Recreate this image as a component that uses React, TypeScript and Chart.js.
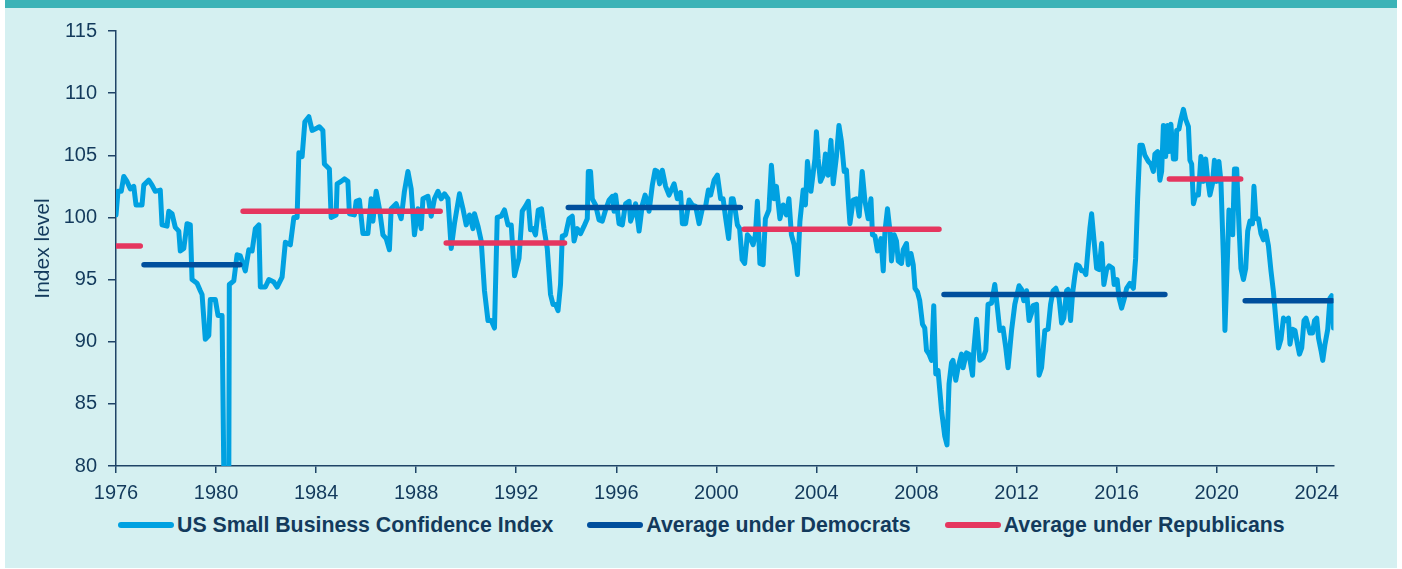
import React, { useEffect, useRef } from "react";
import { Chart, registerables } from "chart.js";

Chart.register(...registerables);

// ---------- data ----------
const xTickYears = [1976, 1980, 1984, 1988, 1992, 1996, 2000, 2004, 2008, 2012, 2016, 2020, 2024];
const yTickValues = [80, 85, 90, 95, 100, 105, 110, 115];
const seriesLabels = ["US Small Business Confidence Index", "Average under Democrats", "Average under Republicans"];
const yAxisTitle = "Index level";

// [year, index value]
const index1976to1984: [number, number][] = [
  [1976.0, 100.2], [1976.08, 102.1], [1976.21, 102.1], [1976.31, 103.3], [1976.44, 102.9], [1976.57, 102.3], [1976.71, 102.5], [1976.8, 101.0], [1977.04, 101.0], [1977.11, 102.6], [1977.31, 103.0], [1977.44, 102.6], [1977.57, 102.1], [1977.77, 102.2], [1977.84, 99.4], [1978.04, 99.3], [1978.11, 100.5], [1978.24, 100.3], [1978.37, 99.2], [1978.51, 98.9], [1978.57, 97.3], [1978.71, 97.5], [1978.84, 99.5], [1978.97, 99.4], [1979.04, 95.0], [1979.24, 94.7], [1979.37, 94.1], [1979.44, 93.8], [1979.57, 90.2], [1979.71, 90.5], [1979.77, 93.4], [1979.97, 93.4], [1980.08, 92.1], [1980.24, 92.1], [1980.31, 79.6], [1980.51, 79.6], [1980.53, 94.6], [1980.71, 94.9], [1980.84, 97.0], [1980.97, 96.9], [1981.17, 95.7], [1981.31, 97.4], [1981.44, 97.3], [1981.57, 99.1], [1981.71, 99.4], [1981.77, 94.4], [1981.97, 94.4], [1982.11, 95.0], [1982.31, 94.8], [1982.44, 94.4], [1982.64, 95.2], [1982.77, 98.0], [1982.97, 97.8], [1983.11, 100.0], [1983.24, 100.0], [1983.31, 105.2], [1983.44, 104.9], [1983.55, 107.7], [1983.71, 108.1], [1983.84, 107.0], [1984.04, 107.2],
];
const index1984to1992: [number, number][] = [
  [1984.13, 107.3], [1984.27, 107.0], [1984.33, 104.3], [1984.53, 103.9], [1984.6, 100.0], [1984.8, 100.2], [1984.84, 102.7], [1985.0, 102.9], [1985.13, 103.1], [1985.27, 102.9], [1985.33, 100.3], [1985.53, 100.2], [1985.6, 101.3], [1985.73, 101.4], [1985.87, 98.7], [1986.07, 98.7], [1986.2, 101.5], [1986.27, 99.7], [1986.4, 102.1], [1986.53, 100.7], [1986.67, 98.6], [1986.8, 98.3], [1986.93, 97.4], [1987.0, 100.7], [1987.2, 101.1], [1987.4, 99.9], [1987.53, 102.1], [1987.67, 103.7], [1987.8, 102.3], [1987.93, 98.6], [1988.07, 100.7], [1988.2, 99.1], [1988.27, 101.5], [1988.47, 101.7], [1988.6, 100.1], [1988.73, 101.5], [1988.87, 102.1], [1989.0, 101.5], [1989.13, 101.9], [1989.27, 101.5], [1989.4, 97.5], [1989.53, 99.5], [1989.73, 101.9], [1989.87, 100.7], [1990.0, 99.4], [1990.13, 100.2], [1990.27, 99.1], [1990.33, 100.3], [1990.47, 99.3], [1990.6, 98.1], [1990.73, 94.1], [1990.87, 91.7], [1991.0, 91.7], [1991.13, 91.1], [1991.24, 100.0], [1991.4, 100.1], [1991.53, 100.6], [1991.67, 99.4], [1991.8, 99.4], [1991.93, 95.3],
];
const index1992to2000: [number, number][] = [
  [1992.11, 96.7], [1992.24, 100.5], [1992.37, 100.9], [1992.48, 101.3], [1992.57, 99.0], [1992.67, 99.1], [1992.77, 98.6], [1992.88, 100.6], [1993.01, 100.7], [1993.11, 99.1], [1993.24, 97.5], [1993.37, 93.8], [1993.47, 93.0], [1993.57, 93.0], [1993.67, 92.5], [1993.77, 94.6], [1993.84, 98.5], [1993.97, 98.6], [1994.11, 99.9], [1994.24, 100.1], [1994.31, 98.1], [1994.44, 99.1], [1994.57, 98.7], [1994.71, 99.3], [1994.84, 99.9], [1994.88, 103.7], [1994.97, 103.7], [1995.04, 101.5], [1995.17, 101.0], [1995.31, 99.8], [1995.44, 99.7], [1995.57, 100.6], [1995.71, 101.4], [1995.84, 101.7], [1995.91, 100.5], [1995.97, 101.8], [1996.11, 99.5], [1996.24, 99.4], [1996.37, 101.1], [1996.51, 101.3], [1996.57, 99.7], [1996.71, 100.5], [1996.77, 101.1], [1996.91, 98.9], [1997.04, 101.0], [1997.15, 101.8], [1997.24, 101.3], [1997.31, 100.5], [1997.44, 102.6], [1997.55, 103.8], [1997.64, 103.7], [1997.73, 102.7], [1997.84, 103.8], [1997.97, 102.5], [1998.11, 101.8], [1998.31, 102.7], [1998.44, 101.5], [1998.57, 102.0], [1998.64, 99.5], [1998.77, 99.5], [1998.91, 101.4], [1999.04, 101.0], [1999.17, 100.9], [1999.31, 99.5], [1999.44, 100.7], [1999.57, 100.9], [1999.68, 102.2], [1999.77, 101.8], [1999.91, 103.0], [2000.04, 103.4],
];
const index2000to2008: [number, number][] = [
  [2000.17, 101.5], [2000.27, 101.5], [2000.36, 100.1], [2000.49, 98.3], [2000.6, 101.5], [2000.67, 101.5], [2000.76, 100.5], [2000.84, 99.4], [2000.93, 99.1], [2001.03, 96.6], [2001.13, 96.3], [2001.24, 98.6], [2001.36, 98.3], [2001.47, 97.8], [2001.56, 98.6], [2001.64, 101.3], [2001.74, 96.3], [2001.87, 96.2], [2001.96, 99.9], [2002.1, 100.6], [2002.2, 104.2], [2002.31, 101.5], [2002.4, 102.5], [2002.54, 99.9], [2002.67, 101.0], [2002.8, 100.2], [2002.9, 101.5], [2003.0, 98.6], [2003.11, 97.8], [2003.24, 95.4], [2003.34, 99.7], [2003.47, 102.2], [2003.56, 101.0], [2003.64, 104.5], [2003.78, 102.1], [2003.94, 104.7], [2004.0, 106.9], [2004.07, 104.7], [2004.16, 102.9], [2004.27, 103.4], [2004.36, 105.1], [2004.47, 103.4], [2004.58, 106.2], [2004.67, 102.7], [2004.8, 104.9], [2004.9, 107.4], [2005.0, 106.1], [2005.11, 103.7], [2005.2, 103.8], [2005.27, 101.5], [2005.34, 99.5], [2005.47, 101.4], [2005.6, 101.5], [2005.71, 100.1], [2005.83, 103.7], [2005.94, 101.3], [2006.07, 99.9], [2006.18, 101.5], [2006.24, 98.6], [2006.34, 98.5], [2006.44, 97.3], [2006.58, 98.3], [2006.67, 95.7], [2006.74, 98.9], [2006.84, 100.7], [2006.94, 98.9], [2007.0, 96.5], [2007.11, 98.6], [2007.2, 98.1], [2007.27, 96.5], [2007.4, 96.3], [2007.47, 97.4], [2007.6, 97.9], [2007.67, 96.2], [2007.78, 97.1], [2007.87, 96.2], [2007.94, 94.3], [2008.04, 94.0],
];
const index2008to2016: [number, number][] = [
  [2008.13, 93.3], [2008.24, 91.4], [2008.33, 91.1], [2008.4, 89.3], [2008.5, 89.0], [2008.6, 88.5], [2008.69, 92.9], [2008.77, 87.4], [2008.86, 87.7], [2009.0, 84.5], [2009.13, 82.4], [2009.22, 81.7], [2009.3, 86.6], [2009.4, 88.3], [2009.46, 88.5], [2009.57, 86.9], [2009.66, 87.9], [2009.8, 89.0], [2009.86, 87.9], [2010.0, 89.1], [2010.1, 89.0], [2010.24, 87.3], [2010.29, 89.3], [2010.4, 91.8], [2010.53, 88.5], [2010.66, 88.7], [2010.77, 89.3], [2010.86, 93.0], [2011.0, 93.1], [2011.13, 94.6], [2011.22, 93.0], [2011.33, 90.9], [2011.46, 91.1], [2011.57, 89.5], [2011.66, 87.9], [2011.8, 90.9], [2011.93, 93.0], [2012.1, 94.5], [2012.2, 94.2], [2012.29, 93.3], [2012.4, 94.1], [2012.5, 91.7], [2012.6, 92.3], [2012.66, 92.9], [2012.8, 93.0], [2012.9, 87.3], [2013.0, 87.9], [2013.13, 90.9], [2013.26, 91.0], [2013.36, 93.0], [2013.46, 94.1], [2013.57, 94.3], [2013.7, 93.5], [2013.8, 91.5], [2013.89, 91.9], [2014.0, 94.1], [2014.06, 94.2], [2014.16, 91.7], [2014.24, 93.9], [2014.33, 95.3], [2014.4, 96.2], [2014.5, 96.1], [2014.6, 95.7], [2014.69, 95.7], [2014.77, 95.4], [2014.86, 97.5], [2014.93, 99.1], [2015.0, 100.3], [2015.09, 98.3], [2015.2, 95.9], [2015.3, 95.8], [2015.4, 97.9], [2015.49, 94.6], [2015.6, 95.8], [2015.7, 96.1], [2015.84, 95.9], [2015.9, 94.6], [2016.02, 95.0], [2016.1, 93.5], [2016.2, 92.7],
];
const index2016to2024: [number, number][] = [
  [2016.31, 93.5], [2016.4, 94.3], [2016.53, 94.7], [2016.67, 94.3], [2016.76, 96.7], [2016.84, 101.5], [2016.93, 105.8], [2017.03, 105.8], [2017.13, 105.0], [2017.27, 104.5], [2017.37, 104.3], [2017.47, 103.7], [2017.53, 105.1], [2017.64, 105.3], [2017.73, 103.0], [2017.8, 103.7], [2017.87, 107.4], [2017.96, 104.9], [2018.04, 107.4], [2018.09, 105.3], [2018.17, 107.5], [2018.27, 104.7], [2018.36, 104.7], [2018.4, 107.0], [2018.49, 107.1], [2018.57, 107.9], [2018.67, 108.7], [2018.76, 107.9], [2018.87, 107.3], [2018.93, 104.6], [2019.0, 104.3], [2019.07, 101.1], [2019.16, 101.8], [2019.27, 101.8], [2019.37, 104.9], [2019.47, 102.9], [2019.56, 104.7], [2019.64, 103.1], [2019.73, 101.8], [2019.83, 102.7], [2019.91, 104.6], [2020.0, 102.9], [2020.09, 104.5], [2020.17, 102.9], [2020.27, 96.7], [2020.33, 90.9], [2020.44, 97.3], [2020.49, 100.6], [2020.57, 100.2], [2020.64, 98.6], [2020.71, 103.9], [2020.8, 103.9], [2020.89, 99.4], [2020.97, 95.9], [2021.07, 95.0], [2021.16, 95.9], [2021.24, 98.9], [2021.33, 99.7], [2021.43, 99.5], [2021.49, 102.5], [2021.57, 99.9], [2021.67, 99.9], [2021.77, 98.7], [2021.87, 98.2], [2021.96, 98.9], [2022.07, 97.7], [2022.17, 95.7], [2022.27, 94.0], [2022.36, 91.9], [2022.47, 89.5], [2022.57, 90.2], [2022.67, 91.9], [2022.76, 91.7], [2022.87, 91.9], [2022.93, 89.8], [2023.03, 91.0], [2023.13, 90.9], [2023.23, 89.8], [2023.31, 89.0], [2023.4, 89.5], [2023.49, 91.7], [2023.57, 91.9], [2023.64, 91.4], [2023.73, 90.7], [2023.83, 90.7], [2023.91, 91.7], [2024.0, 91.9], [2024.07, 90.3], [2024.17, 89.3], [2024.24, 88.5], [2024.33, 89.8], [2024.44, 91.0], [2024.53, 93.5], [2024.6, 93.7], [2024.67, 91.1],
];

// [start year, end year, average level]
const democratTerms: [number, number, number][] = [
  [1977.12, 1980.95, 96.2],
  [1994.08, 2000.96, 100.8],
  [2009.1, 2017.93, 93.8],
  [2021.14, 2024.62, 93.3],
];
const republicanTerms: [number, number, number][] = [
  [1976.0, 1976.97, 97.7],
  [1981.08, 1988.96, 100.5],
  [1989.2, 1993.93, 97.95],
  [2001.11, 2008.9, 99.05],
  [2018.11, 2020.96, 103.1],
];

// ---------- style ----------
const FONT = "Arial, 'Liberation Sans', Helvetica, sans-serif";
const BG = "#d5f0f1";
const TEAL = "#3bb3b7";
const TEXT = "#133a5c";
const AXIS = "#1f4467";
const CYAN = "#00a1e1";
const NAVY = "#004f9d";
const RED = "#e5365f";
const seriesColors = [CYAN, NAVY, RED];

function termPoints(terms: [number, number, number][]) {
  const pts: { x: number; y: number | null }[] = [];
  terms.forEach(([s, e, v], i) => {
    if (i > 0) pts.push({ x: (terms[i - 1][1] + s) / 2, y: null });
    pts.push({ x: s, y: v }, { x: e, y: v });
  });
  return pts;
}

export default function App() {
  const canvasRef = useRef<HTMLCanvasElement | null>(null);

  useEffect(() => {
    const canvas = canvasRef.current;
    if (!canvas) return;
    const indexPoints = [
      ...index1976to1984, ...index1984to1992, ...index1992to2000,
      ...index2000to2008, ...index2008to2016, ...index2016to2024,
    ].map(([x, y]) => ({ x, y }));

    const chart = new Chart(canvas, {
      type: "line",
      data: {
        datasets: [
          {
            label: seriesLabels[0],
            data: indexPoints,
            borderColor: CYAN,
            backgroundColor: CYAN,
            borderWidth: 5,
            pointRadius: 0,
            borderJoinStyle: "round",
            borderCapStyle: "round",
            tension: 0,
            clip: 0,
            order: 3,
          },
          {
            label: seriesLabels[1],
            data: termPoints(democratTerms),
            borderColor: NAVY,
            backgroundColor: NAVY,
            borderWidth: 5.5,
            pointRadius: 0,
            borderCapStyle: "round",
            spanGaps: false,
            order: 2,
          },
          {
            label: seriesLabels[2],
            data: termPoints(republicanTerms),
            borderColor: RED,
            backgroundColor: RED,
            borderWidth: 5.5,
            pointRadius: 0,
            borderCapStyle: "round",
            spanGaps: false,
            order: 1,
          },
        ] as any,
      },
      options: {
        animation: false,
        responsive: false,
        maintainAspectRatio: false,
        events: [],
        layout: { padding: { top: 21, right: 63.5, bottom: 2, left: 0 } },
        plugins: {
          legend: { display: false },
          tooltip: { enabled: false },
        },
        scales: {
          x: {
            type: "linear",
            min: 1976,
            max: 2024.67,
            afterBuildTicks: (s: any) => {
              s.ticks = xTickYears.map((v) => ({ value: v }));
            },
            afterFit: (s: any) => {
              s.height = 40;
            },
            ticks: {
              autoSkip: false,
              maxRotation: 0,
              padding: 8,
              color: TEXT,
              font: { family: FONT, size: 20 },
              callback: (v: any) => String(v),
            },
            grid: { display: true, drawOnChartArea: false, drawTicks: true, tickLength: 7, color: AXIS, lineWidth: 1.5 },
            border: { display: true, color: AXIS, width: 1.5 },
          },
          y: {
            type: "linear",
            min: 80,
            max: 115,
            afterBuildTicks: (s: any) => {
              s.ticks = yTickValues.map((v) => ({ value: v }));
            },
            afterFit: (s: any) => {
              s.width = 111;
            },
            ticks: {
              padding: 11,
              color: TEXT,
              font: { family: FONT, size: 20 },
              callback: (v: any) => String(v),
            },
            title: {
              display: true,
              text: yAxisTitle,
              color: TEXT,
              font: { family: FONT, size: 21 },
              padding: { top: 26, bottom: 0 },
            },
            grid: { display: true, drawOnChartArea: false, drawTicks: true, tickLength: 8, color: AXIS, lineWidth: 1.5 },
            border: { display: true, color: AXIS, width: 1.5 },
          },
        },
      } as any,
    });
    return () => chart.destroy();
  }, []);

  return (
    <div style={{ position: "fixed", left: 0, top: 0, width: 1402, height: 569, background: "#ffffff", overflow: "hidden" }}>
      <div style={{ position: "absolute", left: 5, top: 0, width: 1392, height: 568, background: BG }}>
        <div style={{ position: "absolute", left: 0, top: 0, width: 1392, height: 8, background: TEAL }} />
        <canvas
          ref={canvasRef}
          width={1392}
          height={500}
          style={{ position: "absolute", left: 0, top: 8, width: 1392, height: 500 }}
        />
        <div
          style={{
            position: "absolute",
            left: 113,
            top: 511,
            height: 28,
            display: "flex",
            alignItems: "center",
            gap: 34,
            fontFamily: FONT,
            fontWeight: "bold",
            fontSize: 21.3,
            color: TEXT,
            whiteSpace: "nowrap",
          }}
        >
          {seriesLabels.map((label, i) => (
            <div key={label} style={{ display: "flex", alignItems: "center" }}>
              <span
                style={{
                  display: "inline-block",
                  width: 56,
                  height: 6,
                  borderRadius: 3,
                  background: seriesColors[i],
                  marginRight: 3,
                }}
              />
              <span>{label}</span>
            </div>
          ))}
        </div>
      </div>
    </div>
  );
}
